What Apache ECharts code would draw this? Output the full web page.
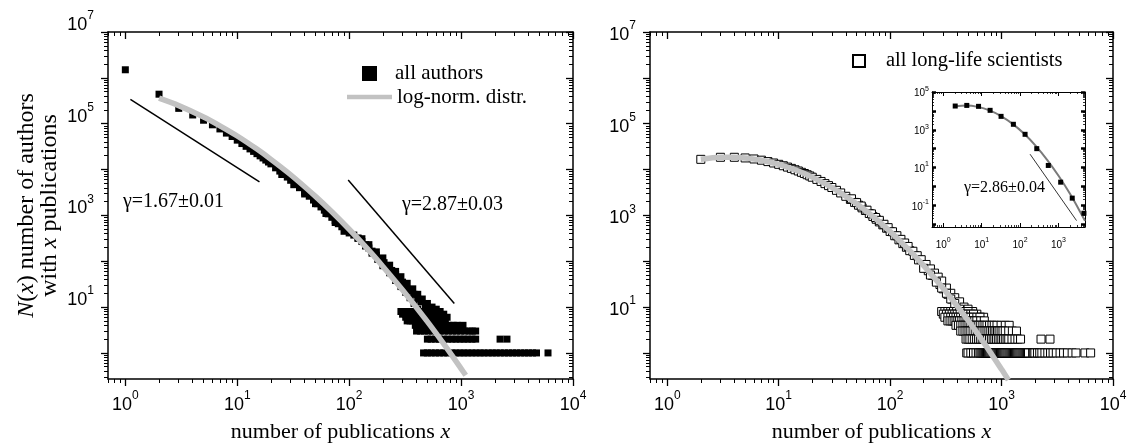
<!DOCTYPE html>
<html><head><meta charset="utf-8">
<script src="https://cdn.jsdelivr.net/npm/echarts@6/dist/echarts.min.js"></script>
<style>html,body{margin:0;padding:0;background:#fff}#c{width:1130px;height:447px}</style>
</head><body><div id="c"></div>
<script>
const SERIF = '"Liberation Serif","Times New Roman",serif';
const SANS = '"Liberation Sans",Arial,sans-serif';

// ---------------- data ----------------
// left panel: all authors, [publications x, number of authors N(x)]
const leftAuthorsCurve = [[1,1.5e6],[2,4.4e5],[3,2.16e5],[4,1.55e5],[5,1.19e5],[6,9.46e4],[7,7.69e4],[8,6.24e4],[9,5.25e4],[10,4.38e4],
  [11,3.69e4],[12,3.21e4],[13,2.82e4],[14,2.49e4],[15,2.22e4],[16,1.99e4],[17,1.79e4],[18,1.61e4],[19,1.46e4],[20,1.33e4],
  [22,1.09e4],[24,9250],[26,7900],[28,6850],[30,5830],[33,4800],[36,4020],[40,3210],[44,2620],[48,2160],[52,1800],[56,1530],
  [60,1300],[65,1080],[70,908],[75,769],[80,658],[86,565],[93,476],[100,414],[110,372],[120,316],[130,269],[140,229],[150,195],
  [160,166],[175,135],[190,112],[205,93],[220,78],[240,63],[260,51],[280,43],[300,35],[325,28],[350,23],[380,19],[410,15],
  [440,13],[480,10],[520,9],[560,8],[610,7],[660,6],[720,5]];
const leftAuthorsBelow = [[25,7800],[32,4670],[40,2930],[50,1800],[62,1100],[75,700],[90,450]];
const leftAuthorsUpper = [[130,310],[150,230],[175,160],[200,118],[230,82],[260,60],[290,46],[330,33],[370,25],[410,19],[450,15],
  [500,12],[550,10],[600,9],[650,8],[700,7],[750,6]];
const leftAuthorsLower = [[120,320],[140,215],[160,150],[180,110],[200,80],[230,56],[260,38],[290,28],[320,21],[350,16],[380,12],
  [410,9],[440,8],[470,6],[500,5]];
const leftRowN1 = [462,500,540,590,640,700,760,830,900,980,1060,1150,1250,1360,1480,1600,1750,1900,2060,2240,2440,2650,2880,3130,3400,3700,4000,4350,4720,5980];
const leftRowN2 = [500,540,590,640,700,760,830,900,980,1060,1150,1250,1350,2230,2570];
const leftRowN3 = [400,435,470,510,555,600,650,710,770,840,910,990,1080,1180,1260,1350];
const leftRowN4 = [390,420,455,490,530,575,620,670,720,780,850,920,1040];
const leftRowN5 = [330,350,370,390,410,430,455,480,510,540,570,600,640,680,720];
const leftRowN6 = [320,340,360,380,400,420,445,470,500,530,560,600,650];
const leftRowN7 = [300,320,340,360,380,400,425,450,480,510,540,580,620];
const leftRowN8 = [290,310,330,350,370,390,415,440,470,500,540];
const leftLogNormX = [2,3,5,7,10,15,20,30,50,70,100,150,200,300,500,700,1000,1100];
const leftLogNormN = [3.6e5,2.48e5,1.40e5,9.0e4,5.4e4,2.79e4,1.67e4,7700,2600,1200,498,172,77,23.6,4.8,1.57,0.456,0.326];
const leftPowerLow = [[1.11,3.4e5],[15.8,5400]];   // gamma = 1.67
const leftPowerHigh = [[98,5900],[870,12]];        // gamma = 2.87

// right panel: all long-life scientists
const rightSciCurve = [[2,16700],[3,18500],[4,18500],[5,17900],[6,17000],[7,16000],[8,14900],[9,13900],[10,13000],[11,12100],
  [12,11300],[13,10600],[14,9900],[15,9300],[16,8700],[17,8200],[18,7700],[19,7250],[20,6800],[22,6100],[24,5500],[26,4930],
  [28,4460],[30,4060],[33,3520],[36,3090],[40,2610],[44,2230],[48,1920],[52,1670],[56,1460],[60,1280],[65,1100],[70,948],
  [75,824],[80,721],[86,621],[93,525],[100,446],[110,360],[120,293],[130,242],[140,202],[150,170],[165,134],[180,107],[200,80],
  [220,62],[240,49],[260,39],[280,31],[300,25],[330,19],[360,15],[400,11],[450,8],[500,6]];
const rightSciUpper = [[45,2300],[50,1900],[55,1600],[62,1300],[68,1080],[74,900],[80,780],[88,640],[96,540],[105,440],[115,360],
  [125,300],[135,250],[145,210],[160,165],[175,132],[190,108],[210,85],[230,68],[250,55],[270,45],[290,37],[320,26],[350,20],
  [380,16],[420,13],[460,10],[500,9],[550,8],[600,7],[650,6],[690,6]];
const rightSciLower = [[200,70],[230,50],[260,35],[290,26],[320,20],[350,15],[380,12],[420,9],[450,7],[480,6],[520,5]];
const rightRowN1 = [487,500,530,560,590,620,640,655,670,685,700,716,732,748,765,782,800,818,836,855,874,894,914,935,956,978,1000,
  1022,1045,1068,1092,1117,1142,1168,1194,1221,1249,1277,1306,1335,1365,1396,1428,1460,1493,1527,1561,1596,1632,1669,1707,1745,
  1900,1945,1990,2100,2200,2300,2450,2600,2750,2900,3100,3350,3600,3900,4300,4650,5600,6300];
const rightRowN2 = [480,500,520,545,570,595,620,645,670,695,720,750,780,810,840,870,900,935,970,1005,1040,1080,1120,1160,1240,1320,1400,1480,2260,2720];
const rightRowN3 = [430,450,470,490,510,530,555,580,605,630,655,680,710,740,770,800,830,860,890,920,950,990,1030,1080,1160,1250,1360];
const rightRowN4 = [390,410,430,450,470,490,510,530,550,575,600,625,650,680,710,740,780,820,860,910,990,1080,1170];
const rightRowN5 = [330,345,360,375,390,405,420,440,460,480,500,525,550,575,600,650,700];
const rightRowN6 = [310,330,350,370,390,410,430,455,480,505,530,560,600,640];
const rightRowN7 = [300,320,340,360,380,400,425,450,475,500,530,560];
const rightRowN8 = [290,310,330,350,370,395,420,445,470,500];
const rightLogNormX = [2,3,4,5,7,10,15,20,30,50,70,100,150,200,300,500,700,1000,1150];
const rightLogNormN = [16700,18450,18530,17900,15960,13000,9290,6840,4055,1786,948,446,170,80.5,25.5,5.13,1.62,0.438,0.256];

// inset (log-binned)
const insetX = [2.05,4.1,8.3,16.6,32,67,135,272,543,1140,2280,4600];
const insetN = [18070,19500,17400,10700,5130,1950,575,100,12.9,1.68,0.24,0.038];
const insetFitX = [2,4,8,16,32,64,128,256,512,1024,2048,4096,4900];
const insetFitN = [17800,19400,16300,10600,5300,2050,612,141,25,3.45,0.37,0.03,0.015];
const insetPower = [[182,51],[2950,0.0155]];       // gamma = 2.86

// tick values
const xMajor = [1,10,100,1000,10000];
const xLabelVals = [1,10,100,1000,10000];
const yMajor = [1,10,100,1e3,1e4,1e5,1e6,1e7];
const yLabelVals = [10,1e3,1e5,1e7];
const insetXMajor = [1,10,100,1000];
const insetXLabelVals = [1,10,100,1000];
const insetYMajor = [0.01,0.1,1,10,100,1e3,1e4,1e5];
const insetYLabelVals = [0.1,10,1e3,1e5];

// ---------------- helpers ----------------
const zip = (xs, ns) => xs.map((x, i) => [x, ns[i]]);
const row = (xs, n) => xs.map(x => [x, n]);
function minorTicks(lo, hi) {
  const out = [];
  for (let e = Math.floor(Math.log10(lo)); e <= Math.ceil(Math.log10(hi)); e++)
    for (let m = 2; m <= 9; m++) { const v = m * Math.pow(10, e); if (v > lo && v < hi) out.push(v); }
  return out;
}
function tickFmt(v) { const e = Math.round(Math.log10(v)); return '{b|10}{s|' + e + '}'; }
function richFor(size, exp, lh, elh) {
  return { b: { fontFamily: SANS, fontSize: size, color: '#000', lineHeight: lh, verticalAlign: 'bottom' },
           s: { fontFamily: SANS, fontSize: exp, color: '#000', lineHeight: elh, verticalAlign: 'top' } };
}
function axisSet(dim, grid, min, max, major, labels, p) {
  const minors = minorTicks(min, max);
  const sides = dim === 'x' ? ['bottom', 'top'] : ['left', 'right'];
  const list = [];
  sides.forEach((pos, i) => {
    const primary = i === 0;
    const inside = primary ? p.primaryInside : true;
    const lab = { show: true, customValues: labels, formatter: tickFmt, margin: p.margin, rich: p.rich };
    if (p.labelPadding) lab.padding = p.labelPadding;
    const ax = {
      type: 'log', logBase: 10, gridIndex: grid, position: pos, min: min, max: max,
      axisLine: { show: true, onZero: false, lineStyle: { color: '#000', width: p.lineW } },
      axisTick: { show: true, inside: inside, length: p.majorLen, lineStyle: { color: '#000', width: p.tickW }, customValues: major },
      axisLabel: primary ? lab : { show: false },
      splitLine: { show: false }, minorTick: { show: false }, minorSplitLine: { show: false }
    };
    if (primary && p.name) Object.assign(ax, p.name);
    list.push(ax);
    list.push({
      type: 'log', logBase: 10, gridIndex: grid, position: pos, min: min, max: max,
      axisLine: { show: false },
      axisTick: { show: true, inside: inside, length: p.minorLen, lineStyle: { color: '#000', width: p.minorW }, customValues: minors },
      axisLabel: { show: false }, splitLine: { show: false }
    });
  });
  return list;
}

const mainRich = richFor(18, 12, 24, 15);
const insetRich = richFor(10, 7, 13, 9);
const xTitle = (gap) => ({
  name: 'number of publications {i|x}', nameLocation: 'middle', nameGap: gap,
  nameTextStyle: { fontFamily: SERIF, fontSize: 22, color: '#000',
    rich: { i: { fontFamily: SERIF, fontSize: 22, fontStyle: 'italic', color: '#000' } } }
});
const yTitle = {
  name: '{i|N}({i|x}) number of authors\nwith {i|x} publications', nameLocation: 'middle', nameGap: 47, nameRotate: 90,
  nameTextStyle: { fontFamily: SERIF, fontSize: 24, lineHeight: 23, color: '#000', align: 'center',
    rich: { i: { fontFamily: SERIF, fontSize: 24, lineHeight: 23, fontStyle: 'italic', color: '#000' } } }
};
const mainX = { primaryInside: false, lineW: 1.5, majorLen: 7, tickW: 1.3, minorLen: 4, minorW: 1, margin: 11, rich: mainRich };
const mainY = { primaryInside: false, lineW: 1.5, majorLen: 7, tickW: 1.3, minorLen: 4, minorW: 1, margin: 14, rich: mainRich };

const xAxes = [].concat(
  axisSet('x', 0, 0.7, 1e4, xMajor, xLabelVals, Object.assign({}, mainX, { name: xTitle(42) })),
  axisSet('x', 1, 0.7, 1e4, xMajor, xLabelVals, Object.assign({}, mainX, { name: xTitle(42) })),
  axisSet('x', 2, 0.51, 4900, insetXMajor, insetXLabelVals,
    { primaryInside: true, lineW: 1, majorLen: 4, tickW: 1, minorLen: 2, minorW: 0.8, margin: 10, rich: insetRich })
);
const yAxes = [].concat(
  axisSet('y', 0, 0.27, 1e7, yMajor, yLabelVals, Object.assign({}, mainY, { name: yTitle, labelPadding: [0, 0, 20, 0] })),
  axisSet('y', 1, 0.27, 1e7, yMajor, yLabelVals, mainY),
  axisSet('y', 2, 0.0071, 1e5, insetYMajor, insetYLabelVals,
    { primaryInside: true, lineW: 1, majorLen: 4, tickW: 2.5, minorLen: 2, minorW: 0.8, margin: 3, rich: insetRich })
);

const leftAll = [].concat(leftAuthorsCurve, leftAuthorsBelow, leftAuthorsUpper, leftAuthorsLower,
  row(leftRowN8, 8), row(leftRowN7, 7), row(leftRowN6, 6), row(leftRowN5, 5),
  row(leftRowN4, 4), row(leftRowN3, 3), row(leftRowN2, 2), row(leftRowN1, 1));
const rightAll = [].concat(rightSciCurve, rightSciUpper, rightSciLower,
  row(rightRowN8, 8), row(rightRowN7, 7), row(rightRowN6, 6), row(rightRowN5, 5),
  row(rightRowN4, 4), row(rightRowN3, 3), row(rightRowN2, 2), row(rightRowN1, 1));

const GRAY = '#c2c2c2';
const option = {
  animation: false,
  backgroundColor: '#fff',
  grid: [
    { left: 108, top: 32, width: 465, height: 347, outerBoundsMode: 'none' },
    { left: 650, top: 32, width: 463, height: 347, outerBoundsMode: 'none' },
    { left: 932, top: 92, width: 153, height: 135, show: true, backgroundColor: '#fff', borderWidth: 0, outerBoundsMode: 'none' }
  ],
  xAxis: xAxes,
  yAxis: yAxes,
  legend: [
    { data: [{ name: 'all authors', icon: 'rect' }], left: 362, top: 62.5, itemWidth: 15, itemHeight: 15, padding: 0, selectedMode: false,
      textStyle: { fontFamily: SERIF, fontSize: 21, lineHeight: 22, color: '#000', padding: [0, 0, 0, 13] } },
    { data: [{ name: 'log-norm. distr.', icon: 'rect' }], left: 347, top: 86, itemWidth: 45, itemHeight: 4.5, padding: 0, selectedMode: false,
      textStyle: { fontFamily: SERIF, fontSize: 21, lineHeight: 22, color: '#000' } },
    { data: [{ name: 'all long-life scientists', icon: 'rect' }], left: 852, top: 50, itemWidth: 12, itemHeight: 12, padding: 0, selectedMode: false,
      textStyle: { fontFamily: SERIF, fontSize: 20.5, lineHeight: 22, color: '#000', padding: [0, 0, 0, 16] } }
  ],
  graphic: [
    { type: 'text', x: 123, y: 202, style: { text: 'γ=1.67±0.01', fontFamily: SERIF, fontSize: 20, fill: '#000', verticalAlign: 'middle' } },
    { type: 'text', x: 402, y: 205, style: { text: 'γ=2.87±0.03', fontFamily: SERIF, fontSize: 20, fill: '#000', verticalAlign: 'middle' } },
    { type: 'text', x: 964, y: 188, z: 100, style: { text: 'γ=2.86±0.04', fontFamily: SERIF, fontSize: 16, fill: '#000', verticalAlign: 'middle' } }
  ],
  series: [
    { name: 'all authors', type: 'scatter', xAxisIndex: 0, yAxisIndex: 0, symbol: 'rect', symbolSize: 7, z: 2,
      itemStyle: { color: '#000', opacity: 1 }, emphasis: { disabled: true }, data: leftAll },
    { name: 'log-norm. distr.', type: 'line', xAxisIndex: 0, yAxisIndex: 0, symbol: 'none', smooth: 0.3, z: 3,
      lineStyle: { color: GRAY, width: 5.5 }, itemStyle: { color: GRAY }, data: zip(leftLogNormX, leftLogNormN) },
    { name: 'power law 1.67', type: 'line', xAxisIndex: 0, yAxisIndex: 0, symbol: 'none', z: 4,
      lineStyle: { color: '#000', width: 1.5 }, data: leftPowerLow },
    { name: 'power law 2.87', type: 'line', xAxisIndex: 0, yAxisIndex: 0, symbol: 'none', z: 4,
      lineStyle: { color: '#000', width: 1.5 }, data: leftPowerHigh },

    { name: 'all long-life scientists', type: 'scatter', xAxisIndex: 4, yAxisIndex: 4, symbol: 'rect', symbolSize: 8, z: 2,
      itemStyle: { color: '#fff', borderColor: '#000', borderWidth: 1, opacity: 1 }, emphasis: { disabled: true }, data: rightAll },
    { name: 'log-norm. fit', type: 'line', xAxisIndex: 4, yAxisIndex: 4, symbol: 'none', smooth: 0.3, z: 3,
      lineStyle: { color: GRAY, width: 5.5 }, data: zip(rightLogNormX, rightLogNormN) },

    { name: 'inset fit', type: 'line', xAxisIndex: 8, yAxisIndex: 8, symbol: 'none', smooth: 0.3, z: 3,
      lineStyle: { color: '#7a7a7a', width: 2 }, data: zip(insetFitX, insetFitN) },
    { name: 'inset power law', type: 'line', xAxisIndex: 8, yAxisIndex: 8, symbol: 'none', z: 3,
      lineStyle: { color: '#000', width: 0.8 }, data: insetPower },
    { name: 'inset data', type: 'scatter', xAxisIndex: 8, yAxisIndex: 8, symbol: 'rect', symbolSize: 5, z: 4,
      itemStyle: { color: '#000', opacity: 1 }, emphasis: { disabled: true }, data: zip(insetX, insetN) }
  ]
};
const chart = echarts.init(document.getElementById('c'), null, { renderer: 'canvas' });
chart.setOption(option);
</script></body></html>
